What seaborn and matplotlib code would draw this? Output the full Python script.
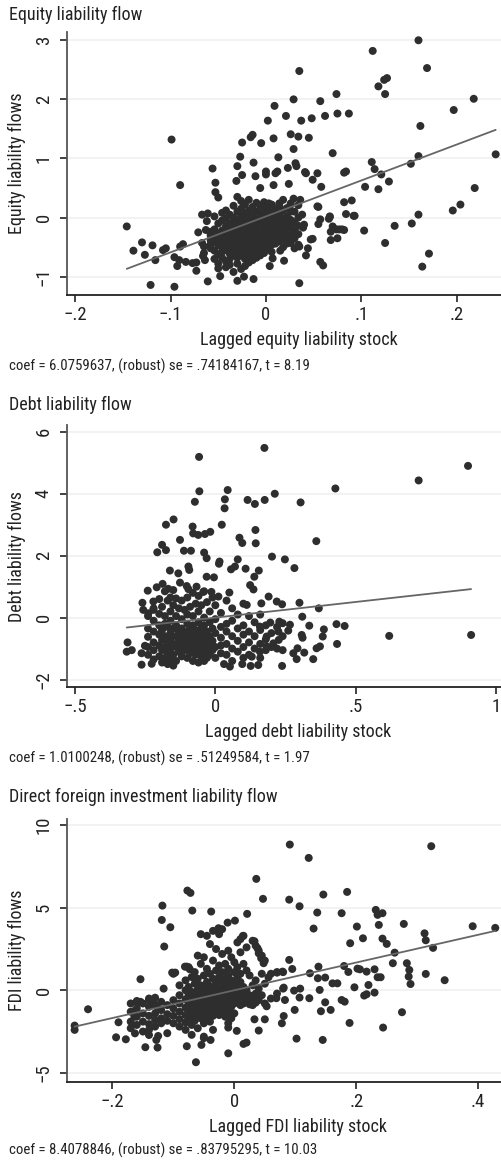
import numpy as np
import pandas as pd
import matplotlib
matplotlib.use("Agg")
import matplotlib.pyplot as plt
import seaborn as sns

# ---- data ----
titles = ["Equity liability flow", "Debt liability flow",
          "Direct foreign investment liability flow"]
xlabels = ["Lagged equity liability stock", "Lagged debt liability stock",
           "Lagged FDI liability stock"]
ylabels = ["Equity liability flows", "Debt liability flows", "FDI liability flows"]
notes = ["coef = 6.0759637, (robust) se = .74184167, t = 8.19",
         "coef = 1.0100248, (robust) se = .51249584, t = 1.97",
         "coef = 8.4078846, (robust) se = .83795295, t = 10.03"]
coefs = [6.0759637, 1.0100248, 8.4078846]
intercepts = [0.02, 0.0, 0.0]

xticks = [[-0.2, -0.1, 0, 0.1, 0.2], [-0.5, 0, 0.5, 1], [-0.2, 0, 0.2, 0.4]]
xticklabels = [["\u2212.2", "\u2212.1", "0", ".1", ".2"], ["\u2212.5", "0", ".5", "1"],
               ["\u2212.2", "0", ".2", ".4"]]
yticks = [[-1, 0, 1, 2, 3], [-2, 0, 2, 4, 6], [-5, 0, 5, 10]]
yticklabels = [["\u22121", "0", "1", "2", "3"], ["\u22122", "0", "2", "4", "6"],
               ["\u22125", "0", "5", "10"]]
xlims = [(-0.209, 0.277), (-0.53, 1.122), (-0.275, 0.485)]
ylims = [(-1.31, 3.14), (-2.25, 6.22), (-5.54, 10.36)]

# scattered points (x, y)
equity_points = [
    (0.160, 3.00), (0.112, 2.82), (0.169, 2.53), (0.035, 2.48), (0.127, 2.36), (0.124, 2.33),
    (0.118, 2.22), (0.125, 2.09), (0.218, 2.01), (0.029, 2.00), (0.074, 2.09), (0.057, 1.97),
    (0.009, 1.89), (0.197, 1.82), (0.021, 1.72), (0.062, 1.72), (0.075, 1.76), (0.087, 1.76),
    (0.048, 1.68), (0.037, 1.64), (0.002, 1.64), (0.162, 1.55), (-0.014, 1.40), (-0.016, 1.36),
    (-0.025, 1.27), (-0.005, 1.26), (0.026, 1.41), (0.034, 1.37), (0.045, 1.35), (0.008, 1.34),
    (-0.099, 1.32), (0.029, 1.16), (-0.027, 1.03), (0.013, 1.02), (0.070, 1.09), (0.241, 1.07),
    (0.160, 1.04), (0.152, 0.91), (0.111, 0.94), (0.114, 0.82), (0.121, 0.73), (0.129, 0.61),
    (0.104, 0.52), (0.118, 0.48), (0.219, 0.50), (0.031, 0.92), (0.032, 0.87), (0.023, 0.84),
    (0.041, 0.77), (0.042, 0.75), (0.054, 0.75), (0.049, 0.64), (0.058, 0.52), (0.082, 0.76),
    (0.084, 0.78), (-0.030, 0.87), (-0.013, 0.93), (-0.056, 0.83), (-0.090, 0.55), (-0.053, 0.59),
    (-0.053, 0.43), (-0.050, 0.34), (-0.031, 0.62), (-0.025, 0.72), (-0.011, 0.70), (0.000, 0.78),
    (0.000, 0.73), (0.010, 0.75), (0.012, 0.78), (0.008, 0.55), (0.024, 0.57), (-0.006, 0.50),
    (0.090, 0.29), (0.082, 0.26), (0.092, 0.03), (0.103, -0.22), (0.135, -0.14), (0.153, -0.10),
    (0.160, 0.05), (0.196, 0.12), (0.204, 0.22), (0.125, -0.43), (0.171, -0.61), (0.164, -0.83),
    (0.080, -0.20), (0.082, -0.21), (0.068, -0.24), (0.070, -0.15), (0.068, -0.38), (0.075, -0.35),
    (0.067, 0.01), (0.066, -0.02), (0.055, 0.18), (0.057, -0.03), (0.055, -0.11), (0.047, -0.37),
    (0.044, -0.52), (0.042, -0.64), (0.057, -0.75), (0.060, -0.81), (0.035, -1.11), (0.019, -0.73),
    (0.004, -0.82), (0.007, -0.69), (-0.013, -1.04), (-0.023, -1.00), (-0.030, -1.07),
    (-0.061, -1.08), (-0.073, -0.90), (-0.048, -0.99), (-0.096, -1.17), (-0.121, -1.14),
    (-0.146, -0.15), (-0.139, -0.56), (-0.130, -0.42), (-0.127, -0.63), (-0.119, -0.47),
    (-0.116, -0.72), (-0.108, -0.55), (-0.105, -0.52), (-0.096, -0.67), (-0.093, -0.82),
    (-0.090, -0.49), (-0.087, -0.45), (-0.091, -0.72), (-0.084, -0.75), (-0.077, -0.77),
    (-0.073, -0.76), (-0.066, -0.65), (-0.064, -0.72), (-0.071, -0.25), (-0.067, 0.05),
    (-0.061, 0.07), (-0.062, -0.06), (-0.063, -0.21), (-0.067, -0.43), (-0.065, -0.49),
    (-0.065, -0.60), (0.067, 0.02), (0.054, 0.19), (0.084, 0.06), (0.093, 0.03), (0.074, -0.20),
    (0.077, -0.20), (0.049, -0.36), (0.026, -0.43), (0.035, -0.49), (0.015, -0.56), (0.039, -0.17),
    (0.040, -0.12), (0.038, 0.05), (0.036, 0.30), (0.034, 0.21), (0.029, 0.32), (0.025, 0.19),
    (0.026, 0.10), (0.014, 0.24), (0.018, 0.30), (0.003, 0.24), (-0.001, 0.24), (0.008, 0.06),
]
# dense core, one column per x with the y values found there
equity_core = [
    (-0.058, [-0.30, -0.38, -0.45, -0.52, -0.24]),
    (-0.054, [-0.20, -0.33, -0.41, -0.56, -0.70, 0.02]),
    (-0.050, [-0.10, -0.27, -0.36, -0.47, -0.62, -0.78, -0.86]),
    (-0.046, [0.08, -0.05, -0.22, -0.31, -0.40, -0.50, -0.58, -0.68]),
    (-0.042, [0.12, -0.02, -0.15, -0.28, -0.37, -0.45, -0.55, -0.74, -0.84]),
    (-0.038, [0.05, -0.10, -0.20, -0.32, -0.42, -0.50, -0.61, -0.70, -0.80]),
    (-0.034, [0.20, 0.00, -0.12, -0.25, -0.35, -0.44, -0.53, -0.64, -0.92]),
    (-0.030, [0.35, 0.10, -0.05, -0.18, -0.30, -0.40, -0.48, -0.57, -0.68, -0.78]),
    (-0.026, [0.28, 0.15, 0.02, -0.10, -0.22, -0.33, -0.42, -0.52, -0.62, -0.87]),
    (-0.022, [0.22, 0.06, -0.06, -0.16, -0.27, -0.38, -0.47, -0.58, -0.70, -0.82]),
    (-0.018, [0.30, 0.12, 0.00, -0.12, -0.24, -0.35, -0.44, -0.55, -0.66, -0.76]),
    (-0.014, [0.18, 0.04, -0.08, -0.19, -0.30, -0.40, -0.50, -0.61, -0.72]),
    (-0.010, [0.25, 0.10, -0.03, -0.15, -0.26, -0.36, -0.46, -0.56, -0.68]),
    (-0.006, [0.20, 0.07, -0.06, -0.20, -0.31, -0.42, -0.53, -0.64]),
    (-0.002, [0.26, 0.12, 0.00, -0.12, -0.24, -0.35, -0.48, -0.60]),
    (0.002, [0.16, 0.03, -0.08, -0.20, -0.30, -0.40, -0.52]),
    (0.006, [0.22, 0.08, -0.04, -0.16, -0.28, -0.38, -0.46, -0.58]),
    (0.010, [0.14, 0.02, -0.10, -0.22, -0.33, -0.44]),
    (0.014, [0.20, 0.06, -0.06, -0.18, -0.30, -0.40]),
    (0.018, [0.12, -0.02, -0.14, -0.26, -0.36, -0.50]),
    (0.022, [0.16, 0.02, -0.10, -0.22, -0.34, -0.44]),
    (0.026, [0.24, -0.04, -0.16, -0.30, -0.40]),
    (0.030, [0.10, -0.08, -0.22, -0.35, -0.52]),
    (0.034, [0.00, -0.14, -0.28, -0.46]),
]

debt_points = [
    (0.175, 5.48), (-0.058, 5.19), (0.901, 4.90), (0.725, 4.43), (0.428, 4.17), (-0.057, 4.08),
    (0.044, 4.12), (0.212, 4.00), (-0.073, 3.74), (0.034, 3.82), (0.033, 3.53), (0.115, 3.80),
    (0.141, 3.67), (0.176, 3.80), (0.304, 3.72), (-0.149, 3.17), (-0.176, 3.00), (0.023, 3.00),
    (-0.081, 2.94), (-0.079, 2.72), (-0.061, 2.67), (-0.037, 2.70), (-0.018, 2.77), (0.143, 2.83),
    (0.144, 2.40), (0.086, 2.58), (0.096, 2.41), (0.360, 2.47), (-0.126, 2.51), (-0.190, 2.35),
    (-0.176, 2.18), (-0.207, 2.11), (-0.112, 2.16), (-0.087, 2.16), (-0.040, 2.10), (-0.031, 1.92),
    (0.202, 1.97), (0.248, 1.88), (0.015, 1.81), (0.013, 1.74), (0.080, 1.88), (0.056, 1.56),
    (0.070, 1.65), (0.108, 1.58), (0.155, 1.52), (0.282, 1.60), (-0.162, 1.52), (-0.132, 1.43),
    (-0.096, 1.65), (-0.093, 1.54), (-0.031, 1.32), (-0.005, 1.30), (0.139, 1.32), (0.124, 1.05),
    (0.136, 0.91), (-0.126, 1.13), (-0.102, 1.02), (-0.067, 1.00), (-0.241, 0.87), (-0.209, 0.98),
    (-0.188, 1.09), (-0.168, 0.93), (-0.150, 0.89), (-0.096, 0.92), (-0.043, 0.83), (-0.014, 0.83),
    (0.050, 0.81), (0.190, 0.68), (0.011, 0.68), (0.112, 0.41), (0.164, 0.46), (0.219, 0.52),
    (0.238, 0.43), (0.300, 0.48), (0.369, 0.30), (0.310, 0.03), (0.620, -0.59), (0.912, -0.56),
    (0.432, -0.21), (0.461, -0.27), (0.434, -0.85), (0.387, -0.38), (0.383, -0.61), (0.335, -0.26),
    (0.308, -0.56), (0.311, -0.65), (0.373, -0.93), (0.361, -0.99), (0.349, -1.34), (0.317, -1.13),
    (0.290, -1.34), (0.293, -0.99), (0.278, -1.15), (0.238, -1.56), (0.266, -0.23), (0.260, -0.42),
    (0.228, -0.13), (0.240, -0.18), (0.196, -0.16), (0.159, -0.29), (0.225, -0.45), (0.226, -0.72),
    (0.183, -0.61), (0.207, -0.83), (0.183, -0.93), (0.159, -1.10), (0.130, -1.26), (0.153, -1.53),
    (0.126, -1.56), (0.096, -1.50), (0.052, -1.58), (0.031, -1.50), (-0.263, -1.52), (-0.227, -1.49),
    (-0.313, -0.80), (-0.316, -1.10), (-0.298, -1.05), (-0.263, -1.15), (-0.251, -0.91),
    (-0.260, 0.48), (-0.257, 0.25), (-0.221, 0.52), (-0.239, 0.14), (-0.221, 0.25),
]
debt_core = [
    (-0.24, [0.05, -0.35, -0.62, -0.95, -1.20]),
    (-0.22, [0.30, -0.10, -0.45, -0.80, -1.05, -1.35]),
    (-0.20, [0.60, 0.12, -0.25, -0.55, -0.90, -1.25]),
    (-0.19, [0.35, -0.40, -0.72, -1.05, -1.45]),
    (-0.18, [0.85, 0.05, -0.20, -0.60, -0.95, -1.30]),
    (-0.17, [0.55, -0.30, -0.80, -1.15, -1.50]),
    (-0.16, [0.65, 0.20, -0.10, -0.50, -0.70, -1.00, -1.35]),
    (-0.15, [0.40, -0.35, -0.85, -1.20, -1.55]),
    (-0.14, [0.62, 0.05, -0.25, -0.60, -0.95, -1.40]),
    (-0.13, [0.30, -0.45, -0.75, -1.10]),
    (-0.12, [0.55, -0.05, -0.35, -0.65, -0.90, -1.25]),
    (-0.11, [0.25, -0.50, -0.80, -1.05]),
    (-0.10, [0.65, 0.10, -0.20, -0.45, -0.70, -0.95, -1.30]),
    (-0.09, [0.35, -0.35, -0.60, -0.85, -1.15]),
    (-0.08, [0.80, 0.05, -0.25, -0.50, -0.75, -1.00, -1.40]),
    (-0.07, [0.45, -0.40, -0.65, -0.90, -1.20]),
    (-0.06, [0.70, 0.20, -0.15, -0.55, -0.80, -1.05, -1.45]),
    (-0.05, [0.40, -0.35, -0.70, -0.95, -1.25]),
    (-0.04, [0.85, 0.00, -0.25, -0.55, -0.85, -1.10, -1.40]),
    (-0.03, [0.50, -0.45, -0.70, -1.00, -1.30]),
    (-0.02, [0.20, -0.15, -0.60, -0.90, -1.20]),
    (-0.01, [0.65, -0.35, -0.75, -1.05]),
    (0.00, [0.40, -0.05, -0.50, -0.95, -1.30]),
    (0.02, [0.15, -0.30, -0.65, -0.90, -1.15]),
    (0.04, [0.55, -0.20, -0.45, -0.85, -1.20]),
    (0.06, [0.30, -0.10, -0.60, -1.00, -1.40]),
    (0.08, [0.10, -0.35, -0.75, -1.10]),
    (0.10, [0.45, -0.25, -0.55, -0.95, -1.30]),
    (0.12, [0.05, -0.45, -0.80, -1.20]),
    (0.14, [-0.15, -0.60, -1.00]),
    (0.16, [0.10, -0.40, -0.85, -1.30]),
    (0.18, [-0.25, -0.70, -1.05]),
    (0.20, [-0.50, -0.95]),
    (0.22, [-0.30, -1.00]),
    (0.24, [-0.60, -1.05]),
]

fdi_points = [
    (0.091, 8.83), (0.323, 8.73), (0.122, 8.02), (0.036, 6.75), (-0.077, 6.04), (-0.072, 5.90),
    (0.185, 5.96), (0.146, 5.80), (0.047, 5.54), (0.090, 5.49), (-0.118, 5.13), (0.107, 5.09),
    (-0.069, 4.83), (-0.038, 4.77), (0.021, 4.63), (0.136, 4.71), (0.176, 4.67), (0.232, 4.87),
    (0.235, 4.57), (0.243, 4.67), (-0.119, 4.26), (-0.105, 3.82), (-0.011, 4.10), (0.001, 4.22),
    (0.130, 3.74), (0.201, 3.86), (0.237, 3.96), (0.278, 4.02), (0.391, 3.88), (0.428, 3.78),
    (0.312, 3.45), (0.211, 3.15), (0.243, 3.13), (0.250, 2.81), (0.190, 2.85), (0.314, 3.03),
    (0.326, 2.57), (0.263, 2.28), (0.260, 1.64), (0.283, 1.64), (0.287, 1.23), (0.289, 0.38),
    (0.286, 0.83), (0.314, 0.99), (0.345, 0.61), (0.275, -1.33), (0.244, -2.26), (0.189, -1.98),
    (0.145, -3.01), (0.102, -2.93), (0.142, -1.27), (0.158, -1.19), (0.176, -0.59), (0.181, -0.69),
    (0.149, -0.73), (0.140, 0.02), (0.161, 0.42), (0.169, 0.42), (0.137, 0.73), (0.138, 1.43),
    (0.149, 0.77), (0.124, 1.03), (0.187, 1.11), (0.180, 1.47), (0.202, 1.31), (0.206, 1.27),
    (0.197, 0.18), (0.217, 1.13), (0.230, 1.27), (0.220, 0.32), (0.213, -0.32), (0.217, -0.24),
    (0.230, -0.14), (0.235, 0.79), (0.240, 0.79), (0.081, 0.16), (0.098, -0.02), (0.108, 0.10),
    (0.107, -0.44), (0.123, -0.48), (0.099, -1.19), (0.081, -1.56), (0.078, -2.00), (0.090, 1.84),
    (0.095, 1.29), (0.070, 1.07), (0.079, 1.13), (0.056, 0.79), (0.069, -0.48), (0.083, -0.59),
    (0.053, -0.97), (0.033, 2.97), (0.038, 2.55), (0.040, 2.24), (0.044, 1.94), (0.048, 1.64),
    (0.033, -1.76), (0.040, -2.44), (0.050, -1.76), (0.020, -3.17), (0.015, -3.25), (0.004, -2.46),
    (-0.010, -2.26), (-0.010, -3.82), (-0.063, -4.36), (-0.054, -3.31), (-0.039, -3.01),
    (-0.050, -2.81), (-0.078, -3.39), (-0.126, -3.47), (-0.146, -3.45), (-0.128, -3.01),
    (-0.140, -2.71), (-0.125, -2.77), (-0.194, -2.85), (-0.178, -2.97), (-0.163, -2.61),
    (-0.190, -1.94), (-0.262, -2.14), (-0.262, -2.40), (-0.240, -1.15), (-0.154, 0.67),
    (-0.115, 2.65), (-0.116, 0.10), (-0.102, 1.07), (-0.097, 1.07), (-0.078, 1.43), (-0.073, 1.27),
    (-0.159, -0.75), (-0.154, -0.70), (-0.164, -1.25), (-0.164, -1.60), (-0.140, -0.60),
    (-0.132, -0.80), (-0.127, -1.00), (-0.081, 1.43), (-0.026, 3.76), (0.014, 3.29),
]
fdi_core = [
    (-0.17, [-0.80, -1.30, -1.90, -2.30]),
    (-0.16, [-0.65, -1.10, -1.60, -2.10]),
    (-0.15, [-0.80, -1.40, -1.90, -2.50]),
    (-0.14, [-0.50, -1.00, -1.55, -2.05, -2.40]),
    (-0.13, [-0.45, -0.90, -1.40, -1.80, -2.20]),
    (-0.12, [-0.70, -1.20, -1.70, -2.00]),
    (-0.11, [-0.90, -1.45, -1.85, -2.60]),
    (-0.10, [1.00, -0.60, -1.10, -1.55, -2.00]),
    (-0.09, [0.30, -0.30, -0.80, -1.30, -1.75, -2.20]),
    (-0.08, [0.60, 0.00, -0.55, -1.05, -1.50, -1.95, -2.40]),
    (-0.075, [1.40, 0.20, -0.30, -0.85, -1.30, -1.80]),
    (-0.07, [0.80, -0.10, -0.60, -1.10, -1.60, -2.10, -2.70]),
    (-0.065, [1.10, 0.40, -0.35, -0.90, -1.40, -1.85]),
    (-0.06, [2.10, 0.70, 0.05, -0.50, -1.00, -1.55, -2.30]),
    (-0.055, [3.40, 1.60, 0.30, -0.20, -0.75, -1.20, -1.70]),
    (-0.05, [2.00, 0.90, 0.10, -0.45, -0.95, -1.45, -2.00, -2.90]),
    (-0.045, [3.30, 1.30, 0.50, -0.10, -0.60, -1.10, -1.60]),
    (-0.04, [2.80, 1.00, 0.25, -0.35, -0.85, -1.35, -1.90]),
    (-0.035, [3.60, 1.80, 0.70, 0.00, -0.55, -1.05, -1.55, -2.40]),
    (-0.03, [2.50, 1.20, 0.40, -0.20, -0.75, -1.25]),
    (-0.025, [3.40, 1.50, 0.80, 0.10, -0.45, -0.95, -1.50]),
    (-0.02, [3.70, 2.20, 1.10, 0.50, -0.10, -0.65, -1.20]),
    (-0.015, [1.60, 0.70, 0.20, -0.35, -0.90, -1.60]),
    (-0.01, [2.40, 1.30, 0.90, 0.30, -0.20, -0.70, -1.30, -2.00]),
    (-0.005, [2.00, 0.60, 0.00, -0.45, -1.00, -1.70]),
    (0.00, [1.70, 1.10, 0.40, -0.25, -0.80, -1.40]),
    (0.005, [2.90, 1.40, 0.80, 0.10, -0.55]),
    (0.01, [3.10, 2.30, 1.00, 0.50, -0.20, -0.90]),
    (0.015, [3.30, 1.60, 0.20, -0.40, -0.80]),
    (0.02, [2.60, 1.20, 0.00, -0.70]),
    (0.025, [0.90, -0.30, -0.85]),
    (0.03, [3.00, 0.30, -0.50, -0.90]),
    (0.035, [2.70, 0.60, -0.20, -0.75]),
    (0.04, [2.40, 0.10, -0.60]),
    (0.045, [2.10, 1.00, -0.30]),
    (0.05, [1.80, 0.40, -0.80]),
    (0.06, [1.00, -0.50]),
    (0.07, [1.10, -0.20]),
    (0.08, [1.10, 0.10]),
]


def to_frame(points, core):
    rows = list(points)
    for x, ys in core:
        rows += [(x, y) for y in ys]
    return pd.DataFrame(rows, columns=["x", "y"])


frames = [to_frame(equity_points, equity_core), to_frame(debt_points, debt_core),
          to_frame(fdi_points, fdi_core)]

sns.set_theme(style="white")
plt.rcParams["font.family"] = ["Roboto Condensed", "Liberation Sans Narrow", "Lato",
                               "DejaVu Sans"]

W, H = 501, 1172
fig = plt.figure(figsize=(W / 100, H / 100), dpi=100)

# axes boxes in pixels: left, top, right, bottom
boxes = [(66.7, 32, 530, 295), (66.7, 425, 530, 687.3), (66.7, 819.3, 530, 1081.7)]
title_y = [15, 405, 797]
note_y = [366, 758, 1150]
xlabel_top = 36  # pixels below the bottom spine

for i, df in enumerate(frames):
    l, t, r, b = boxes[i]
    ax = fig.add_axes([l / W, 1 - b / H, (r - l) / W, (b - t) / H])
    for yt in yticks[i]:
        ax.axhline(yt, color="#f0f0f0", lw=1.2, zorder=0)
    sns.scatterplot(data=df, x="x", y="y", ax=ax, color="#2e2e2e", s=33,
                    edgecolor="none", linewidth=0, zorder=3)
    xs = np.array([df["x"].min(), df["x"].max()])
    fit = pd.DataFrame({"x": xs, "y": intercepts[i] + coefs[i] * xs})
    sns.lineplot(data=fit, x="x", y="y", ax=ax, color="#666666", lw=1.3, zorder=4)

    ax.set_xlim(*xlims[i])
    ax.set_ylim(*ylims[i])
    ax.set_xticks(xticks[i])
    ax.set_xticklabels(xticklabels[i], fontsize=13.5)
    ax.set_yticks(yticks[i])
    ax.set_yticklabels(yticklabels[i], fontsize=13.5, rotation=90, va="center")
    ax.tick_params(axis="both", direction="out", length=5, width=1.2, color="#222222",
                   labelcolor="#222222", bottom=True, left=True)
    ax.tick_params(axis="x", pad=3)
    ax.tick_params(axis="y", pad=5)
    for side in ["top", "right"]:
        ax.spines[side].set_visible(False)
    ax.spines["left"].set_color("#555555")
    ax.spines["left"].set_linewidth(1.3)
    ax.spines["bottom"].set_color("#222222")
    ax.spines["bottom"].set_linewidth(1.3)

    ax.set_xlabel(xlabels[i], fontsize=13, color="#222222")
    ax.set_ylabel(ylabels[i], fontsize=13, color="#222222")
    ax.xaxis.set_label_coords(0.5, -xlabel_top / (b - t))
    ax.yaxis.set_label_coords(-(66.7 - 26) / (r - l), 0.5)

    fig.text(9 / W, 1 - title_y[i] / H, titles[i], fontsize=13, color="#222222",
             ha="left", va="center")
    fig.text(9 / W, 1 - note_y[i] / H, notes[i], fontsize=10.7, color="#222222",
             ha="left", va="center")

fig.savefig("out.png", dpi=100)
